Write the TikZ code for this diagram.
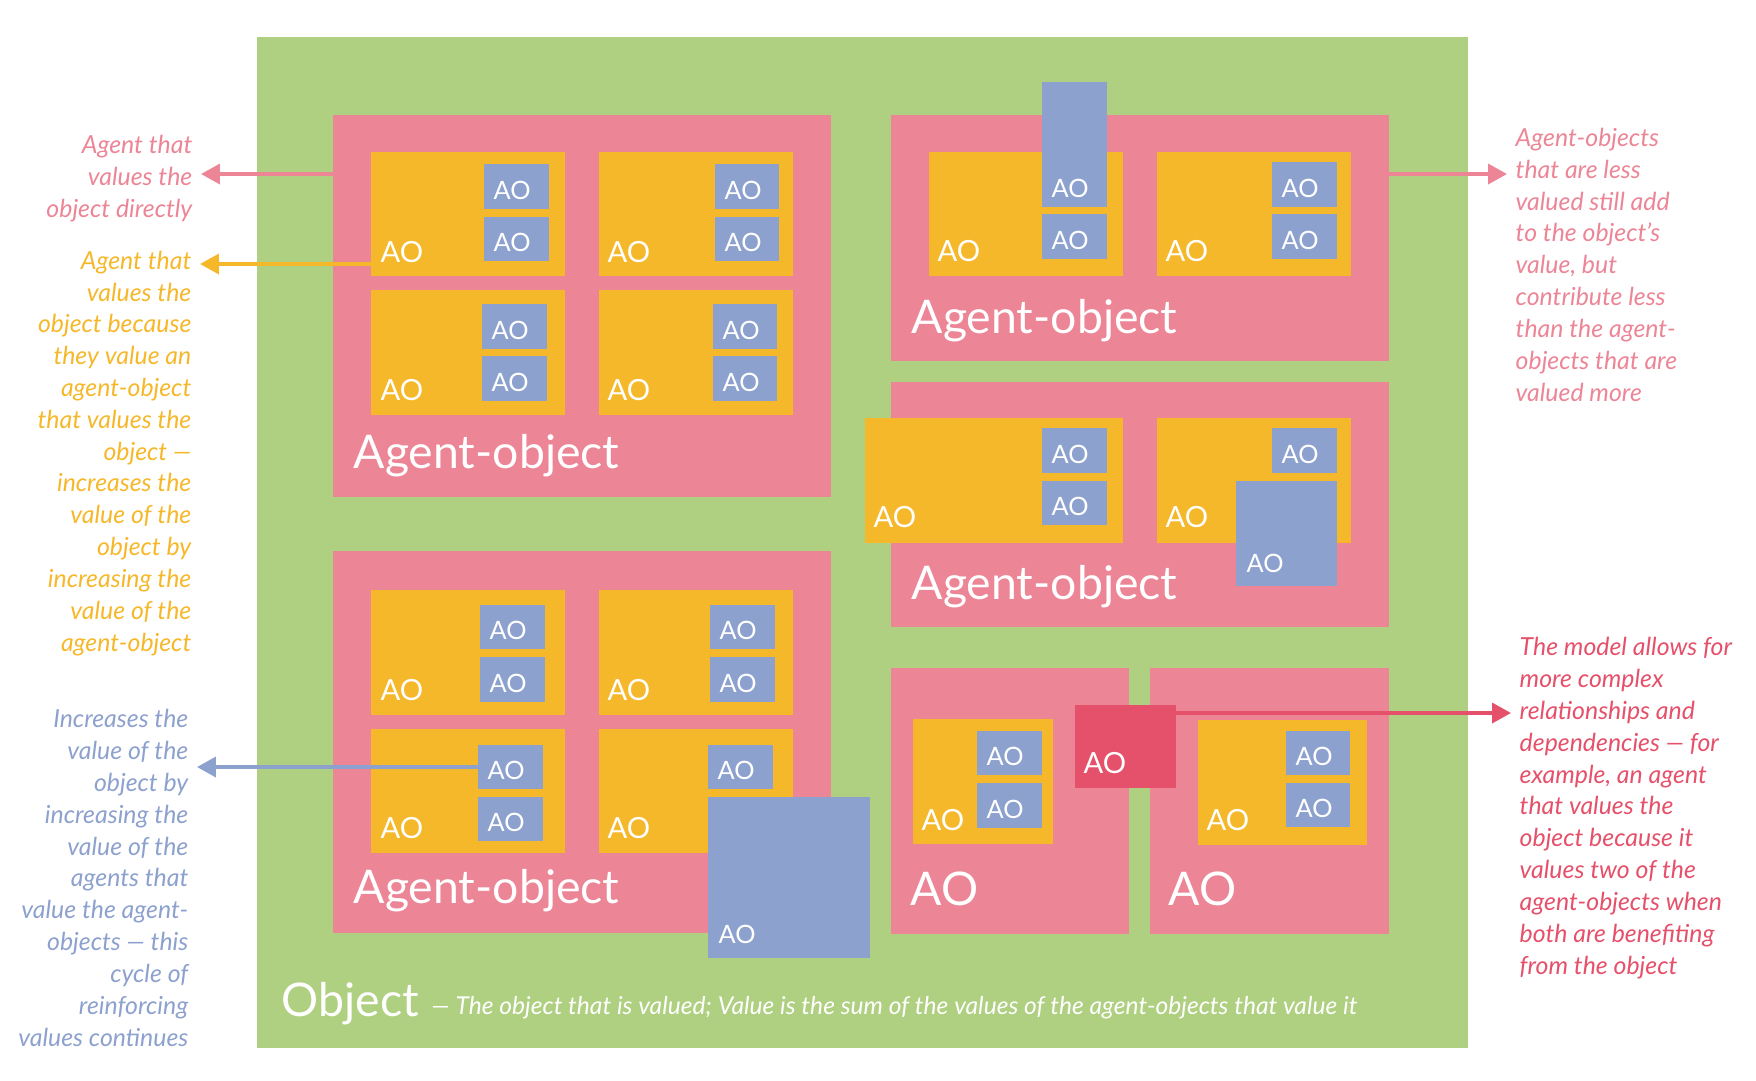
\documentclass[tikz,border=0pt]{standalone}
\usepackage{fontspec}
\setmainfont{Lato}
\usetikzlibrary{arrows.meta}
\definecolor{avGreen}{HTML}{AFCF81}
\definecolor{avPink}{HTML}{EC8596}
\definecolor{avGold}{HTML}{F6B82B}
\definecolor{avBlue}{HTML}{8DA1CE}
\definecolor{avRed}{HTML}{E5506A}
\tikzset{
  av object/.style={fill=avGreen},
  av agent/.style={fill=avPink},
  av inner/.style={fill=avGold},
  av leaf/.style={fill=avBlue},
  av link/.style={fill=avRed},
  av title/.style={anchor=base west, inner sep=0pt, text=white, font=\fontsize{13.2}{15}\selectfont},
  av ao/.style={anchor=base west, inner sep=0pt, text=white, font=\fontsize{8.3}{10}\selectfont},
  av leaf label/.style={anchor=base west, inner sep=0pt, text=white, font=\fontsize{7.2}{9}\selectfont},
  av note/.style={inner sep=0pt, font=\itshape\fontsize{7.07}{9.05}\selectfont},
  av arrow/.style={line width=1pt, -{Triangle[length=5.4pt, width=5.7pt]}, shorten >=0.8mm},
}

\begin{document}
\begin{tikzpicture}[x=0.1mm, y=-0.1mm]
  \useasboundingbox (0,0) rectangle (1756,1080);

  % Object
  \fill[av object] (257,37) rectangle (1468,1048);
  \node[av title] (objlabel) at (281,1016) {Object};
  \node[av leaf label, font=\itshape\fontsize{7.0}{8.5}\selectfont] (objnote) at (431,1014)
    {— The object that is valued; Value is the sum of the values of the agent-objects that value it};

  % Top left agent-object
  \fill[av agent] (333,115) rectangle (831,497);
  \node[av title] (tltitle) at (353,468) {Agent-object};
  \fill[av inner] (371,152) rectangle (565,276);
  \fill[av leaf] (484,164) rectangle (549,209);
  \fill[av leaf] (484,217) rectangle (549,261);
  \node[av ao] (tla) at (380,262) {AO};
  \node[av leaf label] (tla1) at (493,199) {AO};
  \node[av leaf label] (tla2) at (493,251) {AO};
  \fill[av inner] (599,152) rectangle (793,276);
  \fill[av leaf] (715,164) rectangle (779,209);
  \fill[av leaf] (715,217) rectangle (779,261);
  \node[av ao] (tlb) at (607,262) {AO};
  \node[av leaf label] (tlb1) at (724,199) {AO};
  \node[av leaf label] (tlb2) at (724,251) {AO};
  \fill[av inner] (371,290) rectangle (565,415);
  \fill[av leaf] (482,304) rectangle (547,349);
  \fill[av leaf] (482,356) rectangle (547,401);
  \node[av ao] (tlc) at (380,400) {AO};
  \node[av leaf label] (tlc1) at (491,339) {AO};
  \node[av leaf label] (tlc2) at (491,391) {AO};
  \fill[av inner] (599,290) rectangle (793,415);
  \fill[av leaf] (713,304) rectangle (777,349);
  \fill[av leaf] (713,356) rectangle (777,401);
  \node[av ao] (tld) at (607,400) {AO};
  \node[av leaf label] (tld1) at (722,339) {AO};
  \node[av leaf label] (tld2) at (722,391) {AO};

  % Top right agent-object
  \fill[av agent] (891,115) rectangle (1389,361);
  \node[av title] (trtitle) at (911,333) {Agent-object};
  \fill[av inner] (929,152) rectangle (1123,276);
  \fill[av leaf] (1042,82) rectangle (1107,207);
  \fill[av leaf] (1042,214) rectangle (1107,259);
  \node[av ao] (tra) at (937,261) {AO};
  \node[av leaf label] (tra1) at (1051,197) {AO};
  \node[av leaf label] (tra2) at (1051,249) {AO};
  \fill[av inner] (1157,152) rectangle (1351,276);
  \fill[av leaf] (1272,162) rectangle (1337,207);
  \fill[av leaf] (1272,214) rectangle (1337,259);
  \node[av ao] (trb) at (1165,261) {AO};
  \node[av leaf label] (trb1) at (1281,197) {AO};
  \node[av leaf label] (trb2) at (1281,249) {AO};

  % Middle right agent-object
  \fill[av agent] (891,382) rectangle (1389,627);
  \node[av title] (mrtitle) at (911,599) {Agent-object};
  \fill[av inner] (865,418) rectangle (1123,543);
  \fill[av leaf] (1042,428) rectangle (1107,473);
  \fill[av leaf] (1042,481) rectangle (1107,525);
  \node[av ao] (mra) at (873,527) {AO};
  \node[av leaf label] (mra1) at (1051,463) {AO};
  \node[av leaf label] (mra2) at (1051,515) {AO};
  \fill[av inner] (1157,418) rectangle (1351,543);
  \fill[av leaf] (1272,428) rectangle (1337,473);
  \fill[av leaf] (1236,481) rectangle (1337,586);
  \node[av ao] (mrb) at (1165,527) {AO};
  \node[av leaf label] (mrb1) at (1281,463) {AO};
  \node[av leaf label] (mrb2) at (1246,572) {AO};

  % Bottom left agent-object
  \fill[av agent] (333,551) rectangle (831,933);
  \node[av title] (bltitle) at (353,903) {Agent-object};
  \fill[av inner] (371,590) rectangle (565,715);
  \fill[av leaf] (480,605) rectangle (545,649);
  \fill[av leaf] (480,657) rectangle (545,702);
  \node[av ao] (bla) at (380,700) {AO};
  \node[av leaf label] (bla1) at (489,639) {AO};
  \node[av leaf label] (bla2) at (489,692) {AO};
  \fill[av inner] (599,590) rectangle (793,715);
  \fill[av leaf] (710,605) rectangle (775,649);
  \fill[av leaf] (710,657) rectangle (775,702);
  \node[av ao] (blb) at (607,700) {AO};
  \node[av leaf label] (blb1) at (719,639) {AO};
  \node[av leaf label] (blb2) at (719,692) {AO};
  \fill[av inner] (371,729) rectangle (565,853);
  \fill[av leaf] (478,745) rectangle (543,789);
  \fill[av leaf] (478,797) rectangle (543,841);
  \node[av ao] (blc) at (380,838) {AO};
  \node[av leaf label] (blc1) at (487,779) {AO};
  \node[av leaf label] (blc2) at (487,831) {AO};
  \fill[av inner] (599,729) rectangle (793,853);
  \fill[av leaf] (708,745) rectangle (773,789);
  \node[av ao] (bld) at (607,838) {AO};
  \node[av leaf label] (bld1) at (717,779) {AO};
  \fill[av leaf] (708,797) rectangle (870,958);
  \node[av leaf label] (bld2) at (718,943) {AO};

  % Bottom agent-objects and the shared one
  \fill[av agent] (891,668) rectangle (1129,934);
  \node[av title] (aoone) at (910,905) {AO};
  \fill[av inner] (913,719) rectangle (1053,844);
  \fill[av leaf] (977,731) rectangle (1042,775);
  \fill[av leaf] (977,783) rectangle (1042,828);
  \node[av ao] (aoonea) at (921,830) {AO};
  \node[av leaf label] (aoonea1) at (986,765) {AO};
  \node[av leaf label] (aoonea2) at (986,818) {AO};
  \fill[av agent] (1150,668) rectangle (1389,934);
  \node[av title] (aotwo) at (1168,905) {AO};
  \fill[av inner] (1198,720) rectangle (1367,845);
  \fill[av leaf] (1286,731) rectangle (1350,775);
  \fill[av leaf] (1286,783) rectangle (1350,827);
  \node[av ao] (aotwoa) at (1206,830) {AO};
  \node[av leaf label] (aotwoa1) at (1295,765) {AO};
  \node[av leaf label] (aotwoa2) at (1295,817) {AO};
  \fill[av link] (1075,705) rectangle (1176,788);
  \node[av ao] (shared) at (1083,773) {AO};

  % Notes (anchored at the baseline of their last line)
  \node[av note, text=avPink, align=right, anchor=base east] (directnote) at (193,217)
    {Agent that\\values the\\object directly};
  \node[av note, text=avGold, align=right, anchor=base east] (indirectnote) at (192,651)
    {Agent that\\values the\\object because\\they value an\\agent-object\\that values the\\object —\\increases the\\value of the\\object by\\increasing the\\value of the\\agent-object};
  \node[av note, text=avBlue, align=right, anchor=base east] (cyclenote) at (189,1046)
    {Increases the\\value of the\\object by\\increasing the\\value of the\\agents that\\value the agent-\\objects — this\\cycle of\\reinforcing\\values continues};
  \node[av note, text=avPink, align=left, anchor=base west] (lessnote) at (1515,401)
    {Agent-objects\\that are less\\valued still add\\to the object’s\\value, but\\contribute less\\than the agent-\\objects that are\\valued more};
  \node[av note, text=avRed, align=left, anchor=base west] (complexnote) at (1519,974)
    {The model allows for\\more complex\\relationships and\\dependencies — for\\example, an agent\\that values the\\object because it\\values two of the\\agent-objects when\\both are benefiting\\from the object};

  % Arrows
  \coordinate (directout) at (333,174);
  \coordinate (indirectout) at (371,264);
  \coordinate (cycleout) at (478,767);
  \coordinate (lessout) at (1389,174);
  \coordinate (complexout) at (1176,713);
  \draw[av arrow, draw=avPink] (directout) -- (directout -| directnote.east);
  \draw[av arrow, draw=avGold] (indirectout) -- (indirectout -| indirectnote.east);
  \draw[av arrow, draw=avBlue] (cycleout) -- (cycleout -| cyclenote.east);
  \draw[av arrow, draw=avPink] (lessout) -- (lessout -| lessnote.west);
  \draw[av arrow, draw=avRed] (complexout) -- (complexout -| complexnote.west);
\end{tikzpicture}
\end{document}
